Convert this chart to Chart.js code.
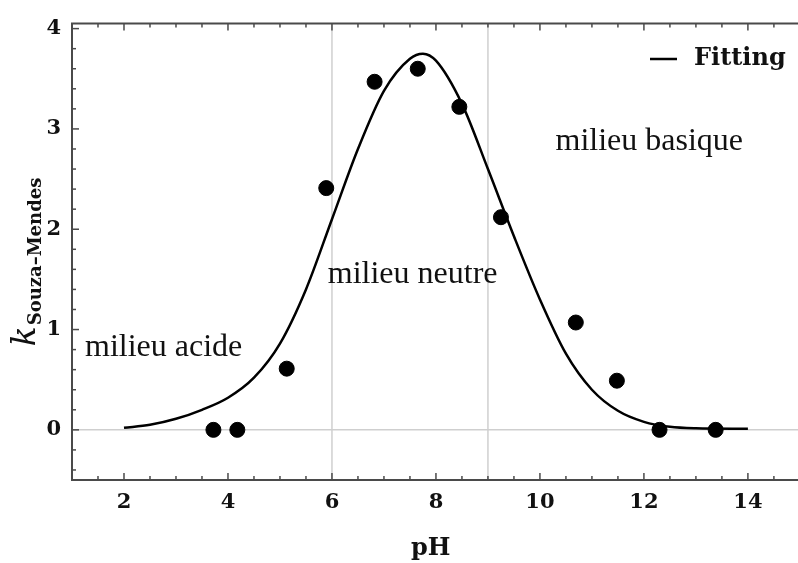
<!DOCTYPE html>
<html>
<head>
<meta charset="utf-8">
<script src="https://cdn.jsdelivr.net/npm/chart.js@4.4.1/dist/chart.umd.min.js"></script>
<style>
  html, body { margin: 0; padding: 0; background: #fff; }
  #wrap { width: 798px; height: 563px; }
</style>
</head>
<body>
<div id="wrap"><canvas id="chart"></canvas></div>
<script>
// measured points
const measPH = [3.72, 4.18, 5.13, 5.89, 6.82, 7.65, 8.45, 9.25, 10.69, 11.48, 12.3, 13.38];
const measK = [0, 0, 0.61, 2.41, 3.47, 3.6, 3.22, 2.12, 1.07, 0.49, 0, 0];

// fitted curve
const fitPH = [2, 2.5, 3, 3.5, 4, 4.5, 5, 5.5, 6, 6.5, 7, 7.5, 7.75, 8, 8.5, 9, 9.5, 10, 10.5, 11, 11.5, 12, 12.5, 13, 14];
const fitK = [0.02, 0.05, 0.11, 0.2, 0.32, 0.52, 0.86, 1.4, 2.1, 2.8, 3.38, 3.7, 3.75, 3.68, 3.25, 2.6, 1.93, 1.3, 0.76, 0.4, 0.19, 0.08, 0.03, 0.015, 0.01];

const xTicks = [2, 4, 6, 8, 10, 12, 14];
const yTicks = [0, 1, 2, 3, 4];
const refX = [6, 9];
const refY = [0];

const zoneLabels = ['milieu acide', 'milieu neutre', 'milieu basique'];
const zonePH = [1.25, 5.92, 10.3];
const zoneK = [0.82, 1.55, 2.87];

const serif = '"DejaVu Serif", serif';
const frameColor = '#4a4a4a';

function strokeLine(ctx, x1, y1, x2, y2) {
  ctx.beginPath();
  ctx.moveTo(x1, y1);
  ctx.lineTo(x2, y2);
  ctx.stroke();
}

const decorations = {
  id: 'decorations',
  beforeDatasetsDraw(chart) {
    const { ctx, chartArea: a, scales: { x, y } } = chart;
    ctx.save();
    ctx.strokeStyle = '#cfcfcf';
    ctx.lineWidth = 1.5;
    refX.forEach(v => {
      const px = x.getPixelForValue(v);
      strokeLine(ctx, px, a.top, px, a.bottom);
    });
    refY.forEach(v => {
      const py = y.getPixelForValue(v);
      strokeLine(ctx, a.left, py, chart.width, py);
    });
    ctx.restore();
  },
  afterDatasetsDraw(chart) {
    const { ctx, scales: { x, y } } = chart;
    ctx.save();
    // region names
    ctx.fillStyle = '#111';
    ctx.font = '32px "Liberation Serif", serif';
    ctx.textAlign = 'left';
    ctx.textBaseline = 'middle';
    zoneLabels.forEach((t, i) => {
      ctx.fillText(t, x.getPixelForValue(zonePH[i]), y.getPixelForValue(zoneK[i]));
    });
    // legend
    ctx.strokeStyle = '#000';
    ctx.lineWidth = 2.5;
    strokeLine(ctx, 650, 59, 677, 59);
    ctx.font = 'bold 24px ' + serif;
    ctx.fillText(chart.data.datasets[0].label, 694, 59);
    ctx.restore();
  },
  afterDraw(chart) {
    const { ctx, chartArea: a, scales: { x, y } } = chart;
    const w = chart.width;
    ctx.save();
    ctx.strokeStyle = frameColor;
    ctx.lineWidth = 2;
    ctx.beginPath();
    ctx.moveTo(w, a.top);
    ctx.lineTo(a.left, a.top);
    ctx.lineTo(a.left, a.bottom);
    ctx.lineTo(w, a.bottom);
    ctx.stroke();

    // inward ticks, major and minor
    ctx.lineWidth = 1.5;
    for (let v = 1.5; v <= x.max; v += 0.5) {
      const px = x.getPixelForValue(v);
      const len = v % 2 === 0 ? 7 : 4;
      strokeLine(ctx, px, a.bottom, px, a.bottom - len);
      strokeLine(ctx, px, a.top, px, a.top + len);
    }
    for (let i = -2; i <= 20; i++) {
      const v = i * 0.2;
      const py = y.getPixelForValue(v);
      const len = i % 5 === 0 ? 7 : 4;
      strokeLine(ctx, a.left, py, a.left + len, py);
    }

    // y axis title: k with subscript
    ctx.translate(35, 262);
    ctx.rotate(-Math.PI / 2);
    ctx.fillStyle = '#111';
    ctx.textBaseline = 'alphabetic';
    ctx.textAlign = 'left';
    const kFont = 'italic 33px ' + serif;
    const subFont = 'bold 18px ' + serif;
    const sub = 'Souza\u2013Mendes';
    ctx.font = kFont;
    const kw = ctx.measureText('k').width;
    ctx.font = subFont;
    const sw = ctx.measureText(sub).width;
    const start = -(kw + sw + 1) / 2;
    ctx.font = kFont;
    ctx.fillText('k', start, 0);
    ctx.font = subFont;
    ctx.fillText(sub, start + kw + 1, 6);
    ctx.restore();
  }
};

new Chart(document.getElementById('chart'), {
  type: 'scatter',
  data: {
    datasets: [
      {
        label: 'Fitting',
        type: 'line',
        data: fitPH.map((v, i) => ({ x: v, y: fitK[i] })),
        borderColor: '#000',
        borderWidth: 2.5,
        pointRadius: 0,
        fill: false,
        cubicInterpolationMode: 'monotone'
      },
      {
        label: 'Mesures',
        data: measPH.map((v, i) => ({ x: v, y: measK[i] })),
        backgroundColor: '#000',
        borderColor: '#000',
        pointRadius: 7.5
      }
    ]
  },
  options: {
    responsive: true,
    maintainAspectRatio: false,
    animation: false,
    layout: { padding: { top: 20, left: 0, right: 0, bottom: 0 } },
    plugins: { legend: { display: false }, tooltip: { enabled: false } },
    scales: {
      x: {
        type: 'linear',
        min: 1,
        max: 14.8,
        grid: { display: false, drawTicks: false },
        border: { display: false },
        afterBuildTicks: s => { s.ticks = xTicks.map(v => ({ value: v })); },
        afterFit: s => { s.height = 83; },
        ticks: { color: '#111', padding: 10, maxRotation: 0, font: { family: serif, weight: 'bold', size: 21 } },
        title: { display: true, text: 'pH', color: '#111', padding: { top: 0, bottom: 0 }, font: { family: serif, weight: 'bold', size: 24 } }
      },
      y: {
        min: -0.5,
        max: 4.05,
        grid: { display: false, drawTicks: false },
        border: { display: false },
        afterBuildTicks: s => { s.ticks = yTicks.map(v => ({ value: v })); },
        afterFit: s => { s.width = 72; },
        ticks: { color: '#111', padding: 11, font: { family: serif, weight: 'bold', size: 21 } }
      }
    }
  },
  plugins: [decorations]
});
</script>
</body>
</html>
